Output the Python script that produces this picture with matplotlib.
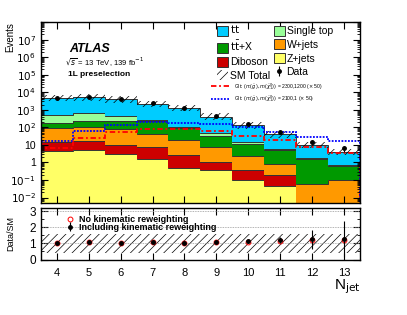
import numpy as np
import matplotlib.pyplot as plt
from matplotlib.patches import Patch
from matplotlib.lines import Line2D
from matplotlib.ticker import FixedLocator, LogLocator, FuncFormatter, NullFormatter, MultipleLocator

plt.rcParams['font.family'] = ['Liberation Sans', 'DejaVu Sans']
plt.rcParams['hatch.linewidth'] = 0.5

# ---------------------------------------------------------------
# data
# ---------------------------------------------------------------
njet = [4, 5, 6, 7, 8, 9, 10, 11, 12, 13]

zjets   = [4.3, 4.9, 3.0, 1.6, 0.49, 0.35, 0.105, 0.043, 0.001, 0.001]
diboson = [9.7, 11.1, 7.0, 6.5, 2.3, 0.72, 0.285, 0.157, 0.001, 0.001]
wjets   = [84, 96, 73, 34, 17.2, 7.0, 1.8, 0.58, 0.061, 0.098]
ttx     = [77, 124, 134, 193, 72, 25, 9.8, 4.2, 1.44, 0.5]
singletop = [345, 384, 218, 35, 20, 15, 3.0, 1.0, 0.3, 0.15]
ttbar   = [4080, 4580, 3565, 1930, 1138, 367, 114, 34, 8.2, 3.25]

data = [4900, 5400, 4200, 2500, 1300, 455, 155, 52, 14.5, 6.6]

sig_2300_1200 = [6.6, 25, 51, 80, 83, 59, 34, 19, 8, 3.5]
sig_2100_1    = [16, 66, 140, 190, 175, 160, 100, 56, 28, 16]

ratio_rw      = [1.03, 1.07, 1.00, 1.10, 1.03, 1.10, 1.13, 1.20, 1.26, 1.26]
ratio_rw_err  = [0.02, 0.02, 0.02, 0.03, 0.04, 0.06, 0.10, 0.18, 0.60, 1.10]
ratio_norw    = [1.03, 1.06, 1.00, 1.08, 1.03, 1.08, 1.10, 1.15, 1.22, 1.22]
band_lo = [0.42, 0.42, 0.42, 0.42, 0.42, 0.42, 0.42, 0.42, 0.42, 0.42]
band_hi = [1.58, 1.58, 1.58, 1.58, 1.58, 1.58, 1.58, 1.58, 1.58, 1.58]

# ---------------------------------------------------------------
x = np.array(njet)
edges = np.append(x - 0.5, x[-1] + 0.5)

stack = [
    (zjets, "#ffff66", "Z+jets"),
    (diboson, "#cc0000", "Diboson"),
    (wjets, "#ff9900", "W+jets"),
    (ttx, "#009900", r"$\mathrm{t\bar{t}}$+X"),
    (singletop, "#99ff99", "Single top"),
    (ttbar, "#00ccff", r"$\mathrm{t\bar{t}}$"),
]

fig = plt.figure(figsize=(4.07, 3.15), dpi=100)
ax = fig.add_axes([0.100, 0.356, 0.785, 0.574])
rax = fig.add_axes([0.100, 0.176, 0.785, 0.164])

base = np.full(len(x), 1e-5)
handles = {}
for vals, col, lab in stack:
    top = base + np.array(vals)
    ax.stairs(top, edges, baseline=base, fill=True, color=col, lw=0)
    ax.stairs(top, edges, color="#333333", lw=0.7)
    handles[lab] = Patch(facecolor=col, edgecolor="#333333", lw=0.7)
    base = top
total = base

ax.stairs(total * 1.5, edges, baseline=total * 0.65, fill=True, hatch="////",
          facecolor="none", edgecolor="black", lw=0)

ax.stairs(sig_2300_1200, edges, color="red", lw=1.3, ls=(0, (3, 1.5, 1, 1.5)))
ax.stairs(sig_2100_1, edges, color="blue", lw=1.3, ls=(0, (1, 0.8)))

data_arr = np.array(data)
dat = ax.errorbar(x, data_arr, yerr=np.sqrt(data_arr), fmt="o", color="black",
                  ms=2.5, lw=0.8, capsize=0)

ax.set_yscale("log")
ax.set_ylim(5e-3, 1e8)
ax.set_xlim(3.5, 13.5)


def logfmt(v, pos):
    e = int(round(np.log10(v)))
    if e == 0:
        return "1"
    if e == 1:
        return "10"
    if e >= 8:
        return ""
    return r"$10^{%d}$" % e


ax.yaxis.set_major_locator(LogLocator(base=10, numticks=20))
ax.yaxis.set_minor_locator(LogLocator(base=10, subs=np.arange(2, 10), numticks=20))
ax.yaxis.set_major_formatter(FuncFormatter(logfmt))
ax.yaxis.set_minor_formatter(NullFormatter())
ax.xaxis.set_major_locator(FixedLocator(njet))
ax.set_xticklabels([])

for a in (ax, rax):
    a.tick_params(which="both", direction="in", top=True, right=True, labelsize=7.5)
    a.tick_params(which="major", length=5, width=0.8)
    a.tick_params(which="minor", length=2.5, width=0.6)
    for s in a.spines.values():
        s.set_linewidth(1.0)

ax.set_ylabel("Events", loc="top", fontsize=7)
ax.yaxis.set_label_coords(-0.08, 1.0)

# labels
ax.text(0.09, 0.85, "ATLAS", transform=ax.transAxes, fontsize=9,
        fontweight="bold", fontstyle="italic", va="center")
ax.text(0.075, 0.775, r"$\sqrt{s}$ = 13 TeV, 139 fb$^{-1}$", transform=ax.transAxes,
        fontsize=5.5, va="center")
ax.text(0.085, 0.712, "1L preselection", transform=ax.transAxes, fontsize=6,
        fontweight="bold", va="center")

# legend
hatch_h = Patch(facecolor="none", edgecolor="black", hatch="////", lw=0)
order = [r"$\mathrm{t\bar{t}}$", r"$\mathrm{t\bar{t}}$+X", "Diboson",
         "Single top", "W+jets", "Z+jets"]
hl = [handles[order[0]], handles[order[1]], handles[order[2]], hatch_h,
      handles[order[3]], handles[order[4]], handles[order[5]], dat]
ll = [order[0], order[1], order[2], "SM Total", order[3], order[4], order[5], "Data"]
leg = ax.legend(hl, ll, ncol=2, loc="upper left", bbox_to_anchor=(0.53, 1.04),
                frameon=False, fontsize=7.5, handlelength=1.0, handleheight=1.1,
                handletextpad=0.2, columnspacing=0.4, labelspacing=0.3,
                borderaxespad=0.3)
ax.add_artist(leg)

sig_h = [Line2D([], [], color="red", lw=1.3, ls=(0, (3, 1.5, 1, 1.5))),
         Line2D([], [], color="blue", lw=1.3, ls=(0, (1, 0.8)))]
sig_l = [r"Glt: $(m(\tilde{g}),m(\tilde{\chi}_1^0))$ = 2300,1200 ($\times$ 50)",
         r"Glt: $(m(\tilde{g}),m(\tilde{\chi}_1^0))$ = 2100,1 ($\times$ 50)"]
ax.legend(sig_h, sig_l, loc="upper left", bbox_to_anchor=(0.52, 0.7),
          frameon=False, fontsize=3.6, handlelength=3.5, labelspacing=0.4,
          handletextpad=1.0)

# ratio panel
rax.stairs(band_hi, edges, baseline=band_lo, fill=True, hatch="////",
           facecolor="none", edgecolor="black", lw=0)
for yv in (1, 2, 3):
    rax.axhline(yv, color="#999999", lw=0.6, ls=(0, (1, 1)))
rax.plot(x, ratio_norw, "o", mfc="none", mec="red", ms=3.5, mew=0.7,
         label="No kinematic reweighting")
rax.errorbar(x, ratio_rw, yerr=ratio_rw_err, fmt="o", color="black", ms=2.5,
             lw=0.8, capsize=0, label="Including kinematic reweighting")
rax.legend(loc="upper left", bbox_to_anchor=(0.06, 0.97),
           frameon=False, handlelength=1.0, handletextpad=0.5,
           labelspacing=-0.1, borderaxespad=0.2,
           prop={"weight": "bold", "size": 6.5})

rax.set_xlim(3.5, 13.5)
rax.set_ylim(0, 3.2)
rax.yaxis.set_major_locator(FixedLocator([0, 1, 2, 3]))
rax.yaxis.set_minor_locator(MultipleLocator(0.5))
rax.xaxis.set_major_locator(FixedLocator(njet))
rax.set_ylabel("Data/SM", fontsize=6.5)
rax.yaxis.set_label_coords(-0.08, 0.5)
rax.set_xlabel(r"N$_{\mathrm{jet}}$", loc="right", fontsize=11, labelpad=0)
rax.tick_params(axis="x", labelsize=8, pad=6)
rax.tick_params(axis="y", labelsize=8.5)

fig.savefig("out.png", dpi=100)
